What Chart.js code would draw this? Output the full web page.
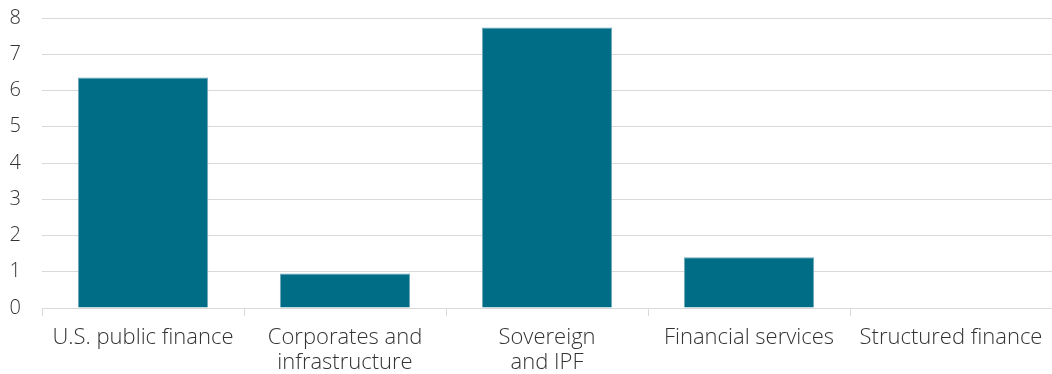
<!DOCTYPE html>
<html>
<head>
<meta charset="utf-8">
<script src="https://cdn.jsdelivr.net/npm/chart.js@4/dist/chart.umd.min.js"></script>
<style>
  html, body { margin: 0; padding: 0; background: #fff; }
  #wrap { width: 1052px; height: 374px; }
</style>
</head>
<body>
<div id="wrap"><canvas id="chart"></canvas></div>
<script>
const categories = [
  'U.S. public finance',
  ['Corporates and', 'infrastructure'],
  ['Sovereign', 'and IPF'],
  'Financial services',
  'Structured finance'
];
const values = [6.36, 0.95, 7.74, 1.40, 0];
const yTicks = [0, 1, 2, 3, 4, 5, 6, 7, 8];

Chart.defaults.font.family = '"Open Sans", Roboto, sans-serif';
Chart.defaults.color = '#333333';

new Chart(document.getElementById('chart'), {
  type: 'bar',
  data: {
    labels: categories,
    datasets: [{
      data: values,
      backgroundColor: '#006d87',
      borderColor: '#6ea8b8',
      borderWidth: 1,
      barPercentage: 0.645,
      categoryPercentage: 1
    }]
  },
  options: {
    responsive: true,
    maintainAspectRatio: false,
    animation: false,
    layout: { padding: { top: 18, right: -10, left: 0, bottom: 0 } },
    plugins: {
      legend: { display: false },
      tooltip: { enabled: false }
    },
    scales: {
      x: {
        afterFit: axis => {
          axis.height = 66;
          axis.paddingLeft = 0;
          axis.paddingRight = 0;
        },
        grid: {
          display: true,
          drawOnChartArea: false,
          drawTicks: true,
          tickLength: 8,
          color: '#d9d9d9',
          offset: true
        },
        border: { display: true, color: '#d9d9d9', width: 1 },
        ticks: {
          font: { size: 22, weight: 300, lineHeight: 1.15 },
          maxRotation: 0,
          autoSkip: false,
          padding: 9
        }
      },
      y: {
        min: 0,
        max: 8,
        afterBuildTicks: axis => { axis.ticks = yTicks.map(v => ({ value: v })); },
        afterFit: axis => {
          axis.width = 42;
          axis.paddingTop = 0;
          axis.paddingBottom = 0;
        },
        grid: { color: '#d9d9d9', drawTicks: false },
        border: { display: false },
        ticks: {
          font: { size: 20, weight: 300 },
          padding: 21,
          align: 'center'
        }
      }
    }
  }
});
</script>
</body>
</html>
